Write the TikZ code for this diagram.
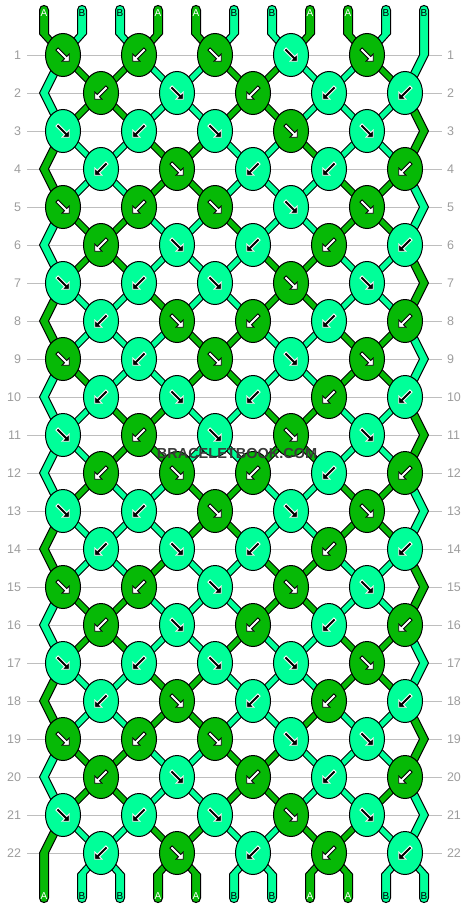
\documentclass[tikz,border=0pt]{standalone}
\usepackage{fontspec}
\setmainfont{Liberation Sans}
\usetikzlibrary{shapes.geometric}
\definecolor{colA}{HTML}{06B906}
\definecolor{colB}{HTML}{00FF99}
\definecolor{rowgray}{HTML}{9C9C9C}
\definecolor{linegray}{HTML}{BEBEBE}
\definecolor{wmgray}{HTML}{3A3A3A}
\newcommand\appL[2]{\expandafter\xdef\csname L#1\endcsname{\csname L#1\endcsname#2}}
\newcommand\prpR[2]{\expandafter\xdef\csname R#1\endcsname{#2\csname R#1\endcsname}}
\tikzset{
  strand/.style={draw=black, line width=1pt, line join=miter},
  knot/.style={ellipse, draw=black, line width=1pt, minimum width=35pt, minimum height=43pt, inner sep=0pt},
  rowlabel/.style={text=rowgray, font=\fontsize{12.5}{14}\selectfont, inner sep=0pt},
  gridline/.style={draw=linegray, line width=1pt},
  endlabel/.style={font=\fontsize{10}{12}\selectfont, inner sep=0pt},
  arrowpic/.pic={\path[pic actions, line width=0.8pt, line join=miter]
    (-7.13,-4.87) -- (-4.87,-7.13) -- (3.78,1.52) -- (6.3,-1) -- (6.3,6.3) -- (-1,6.3) -- (1.52,3.78) -- cycle;},
}
\begin{document}
\begin{tikzpicture}[x=1pt,y=-1pt]
\useasboundingbox (0,0) rectangle (468,908);
% ---- initial strings
\foreach \cc [count=\i] in {A,B,B,A,A,B,B,A,A,B,B}{
  \expandafter\xdef\csname sc\i\endcsname{\cc}
  \expandafter\xdef\csname at\i\endcsname{\i}
  \pgfmathsetmacro\xx{44+38*(\i-1)}
  \pgfmathsetmacro\xl{\xx-4.5}
  \pgfmathsetmacro\xr{\xx+4.5}
  \expandafter\xdef\csname tx\i\endcsname{\xx}
  \expandafter\xdef\csname L\i\endcsname{(\xl,10) -- (\xl,34)}
  \expandafter\xdef\csname R\i\endcsname{(\xr,34) -- (\xr,10)}
}
% ---- simulate the rows
\foreach \r in {1,...,22}{
  \pgfmathsetmacro\yy{55+38*(\r-1)}
  \foreach \k in {1,...,5}{
    \ifodd\r\relax
      \pgfmathtruncatemacro\pp{2*\k-1}
      \pgfmathsetmacro\xx{63+76*(\k-1)}
      \ifnum\k=2 \def\kdir{L}\else\def\kdir{R}\fi
    \else
      \pgfmathtruncatemacro\pp{2*\k}
      \pgfmathsetmacro\xx{101+76*(\k-1)}
      \ifnum\k=2 \def\kdir{R}\else\def\kdir{L}\fi
    \fi
    \pgfmathtruncatemacro\qq{\pp+1}
    \edef\sL{\csname at\pp\endcsname}
    \edef\sR{\csname at\qq\endcsname}
    \if\kdir R\edef\kc{\csname sc\sL\endcsname}\else\edef\kc{\csname sc\sR\endcsname}\fi
    \expandafter\xdef\csname kc-\r-\k\endcsname{\kc}
    \expandafter\xdef\csname kd-\r-\k\endcsname{\kdir}
    \expandafter\xdef\csname kx-\r-\k\endcsname{\xx}
    \pgfmathsetmacro\xl{\xx-4.5}
    \pgfmathsetmacro\xr{\xx+4.5}
    \appL{\sL}{ -- (\xl,\yy)}
    \prpR{\sL}{(\xr,\yy) -- }
    \appL{\sR}{ -- (\xl,\yy)}
    \prpR{\sR}{(\xr,\yy) -- }
    \expandafter\xdef\csname at\pp\endcsname{\sR}
    \expandafter\xdef\csname at\qq\endcsname{\sL}
  }
  \ifodd\r\relax\def\ee{11}\def\xe{424}\else\def\ee{1}\def\xe{44}\fi
  \edef\sE{\csname at\ee\endcsname}
  \pgfmathsetmacro\xl{\xe-4.5}
  \pgfmathsetmacro\xr{\xe+4.5}
  \appL{\sE}{ -- (\xl,\yy)}
  \prpR{\sE}{(\xr,\yy) -- }
}
% ---- bottom ends
\foreach \pp in {1,...,11}{
  \edef\sL{\csname at\pp\endcsname}
  \pgfmathsetmacro\xx{44+38*(\pp-1)}
  \pgfmathsetmacro\xl{\xx-4.5}
  \pgfmathsetmacro\xr{\xx+4.5}
  \appL{\sL}{ -- (\xl,874) -- (\xl,898) .. controls (\xl,904) and (\xr,904) .. (\xr,898)}
  \prpR{\sL}{(\xr,874) -- }
}
% ---- row labels and grid lines
\foreach \r in {1,...,22}{
  \pgfmathsetmacro\yy{55+38*(\r-1)}
  \node[rowlabel, anchor=east, outer sep=6pt] (ll-\r) at (27,\yy) {\r};
  \node[rowlabel, anchor=west, outer sep=5pt] (rl-\r) at (442,\yy) {\r};
  \draw[gridline] (ll-\r.east) -- (rl-\r.west);
}
% ---- strands
\foreach \s in {1,...,11}{
  \edef\cc{\csname sc\s\endcsname}
  \edef\xx{\csname tx\s\endcsname}
  \pgfmathsetmacro\xl{\xx-4.5}
  \pgfmathsetmacro\xr{\xx+4.5}
  \edef\strandcmd{\noexpand\filldraw[strand, fill=col\cc] \csname L\s\endcsname\space -- \csname R\s\endcsname\space .. controls (\xr,4) and (\xl,4) .. cycle;}
  \strandcmd
}
% ---- knots
\foreach \r in {1,...,22}{
  \pgfmathsetmacro\yy{55+38*(\r-1)}
  \foreach \k in {1,...,5}{
    \edef\kc{\csname kc-\r-\k\endcsname}
    \edef\kd{\csname kd-\r-\k\endcsname}
    \edef\xx{\csname kx-\r-\k\endcsname}
    \if A\kc\def\af{white}\def\ao{black}\else\def\af{black}\def\ao{white}\fi
    \if R\kd\def\sx{1}\else\def\sx{-1}\fi
    \node[knot, fill=col\kc] (k-\r-\k) at (\xx,\yy) {};
    \pic[fill=\af, draw=\ao, xscale=\sx] at (k-\r-\k) {arrowpic};
  }
}
% ---- end labels
\foreach \s in {1,...,11}{
  \edef\cc{\csname sc\s\endcsname}
  \pgfmathsetmacro\xx{44+38*(\s-1)}
  \if A\cc\def\tc{white}\else\def\tc{black}\fi
  \node[endlabel, text=\tc] (t-\s) at (\xx,13) {\cc};
  \edef\sL{\csname at\s\endcsname}
  \edef\cb{\csname sc\sL\endcsname}
  \if A\cb\def\tc{white}\else\def\tc{black}\fi
  \node[endlabel, text=\tc] (b-\s) at (\xx,896) {\cb};
}
% ---- watermark
\node[font=\bfseries\fontsize{14.5}{16}\selectfont, text=wmgray, inner sep=0pt] (wm) at (237,453.5) {BRACELETBOOK.COM};
\end{tikzpicture}
\end{document}
